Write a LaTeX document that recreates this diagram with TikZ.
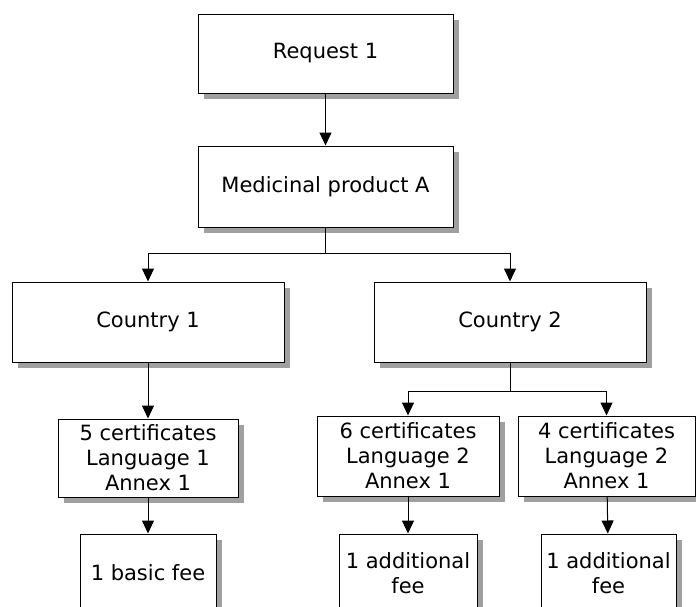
\documentclass[tikz,border=0pt]{standalone}
\usepackage{fontspec}
\setmainfont{DejaVu Sans}
\usetikzlibrary{arrows.meta,shadows}
\definecolor{shadowgray}{RGB}{160,160,160}
\begin{document}
\begin{tikzpicture}[x=1pt,y=-1pt]
    \tikzset{box/.style={draw,fill=white,line width=1pt,align=center,inner sep=0pt,
            font=\fontsize{21}{25}\selectfont,
            general shadow={fill=shadowgray,shadow xshift=6pt,shadow yshift=-6pt}},
        arrow/.style={draw,line width=1pt,-{Triangle[width=12pt,length=13pt]}}}
    \useasboundingbox (0,0) rectangle (696,606);
    \clip (0,0) rectangle (696,606);
    \node[box,minimum width=255pt,minimum height=79pt] (req) at (325.5,53.5) {Request 1};
    \node[box,minimum width=255pt,minimum height=81pt] (med) at (325.5,186.5) {Medicinal product A};
    \node[box,minimum width=272pt,minimum height=80pt] (cty1) at (148,322) {Country 1};
    \node[box,minimum width=272pt,minimum height=80pt] (cty2) at (510,322) {Country 2};
    % certificates
    \node[box,minimum width=180pt,minimum height=78pt] (cert5) at (148,458) {5 certificates\\Language 1\\Annex 1};
    \node[box,minimum width=182pt,minimum height=80pt] (cert6) at (408,456) {6 certificates\\Language 2\\Annex 1};
    \node[box,minimum width=177pt,minimum height=80pt] (cert4) at (606.5,456) {4 certificates\\Language 2\\Annex 1};
    % fees
    \node[box,minimum width=136pt,minimum height=78pt] (fee1) at (148,573) {1 basic fee};
    \node[box,minimum width=138pt,minimum height=78pt] (fee2) at (408,573) {1 additional\\fee};
    \node[box,minimum width=135pt,minimum height=78pt] (fee3) at (608.5,573) {1 additional\\fee};
    \draw[arrow] (req) -- (med);
    \draw[arrow] (med.south) -- ++(0,26) -| (cty1);
    \draw[arrow] (med.south) -- ++(0,26) -| (cty2);
    \draw[arrow] (cty1) -- (cert5);
    \draw[arrow] (cty2.south) -- ++(0,29) -| (cert6);
    \draw[arrow] (cty2.south) -- ++(0,29) -| (cert4);
    \draw[arrow] (cert5) -- (fee1);
    \draw[arrow] (cert6) -- (fee2);
    \draw[arrow] (cert4) -- (fee3);
\end{tikzpicture}
\end{document}
